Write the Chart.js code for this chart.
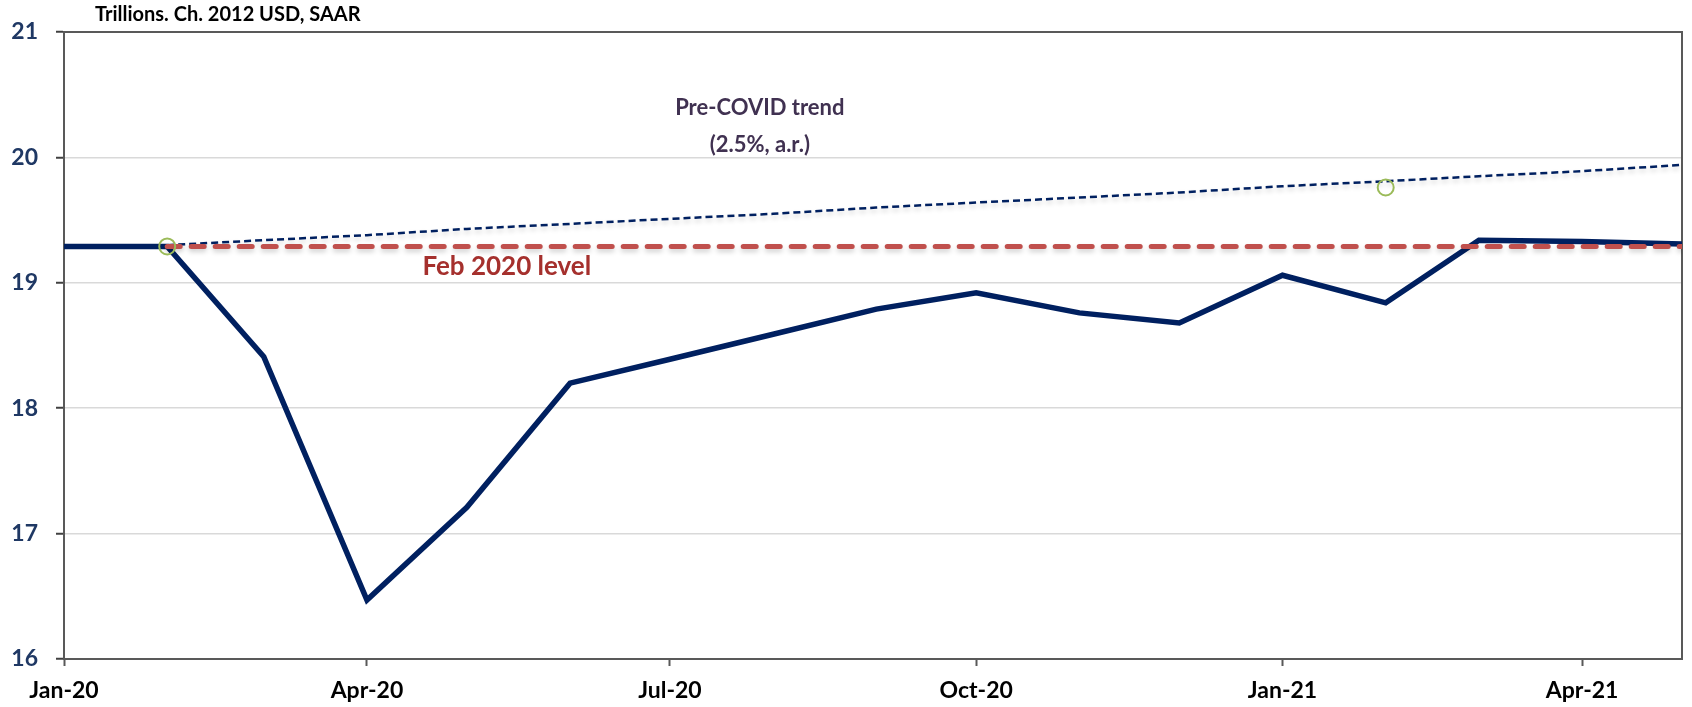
<!DOCTYPE html>
<html>
<head>
<meta charset="utf-8">
<script src="https://cdn.jsdelivr.net/npm/chart.js@4.4.1/dist/chart.umd.min.js"></script>
<style>
  html, body { margin: 0; padding: 0; background: #ffffff; }
  #wrap { width: 1692px; height: 707px; }
</style>
</head>
<body>
<div id="wrap"><canvas id="gdp" width="1692" height="707"></canvas></div>
<script>
// Real GDP, monthly, trillions of chained 2012 dollars (SAAR)
const months = ['2020-01','2020-02','2020-03','2020-04','2020-05','2020-06','2020-07','2020-08',
                '2020-09','2020-10','2020-11','2020-12','2021-01','2021-02','2021-03','2021-04','2021-05'];
const gdpValues = [19.29, 19.29, 18.41, 16.47, 17.21, 18.20, 18.39, 18.59,
                   18.79, 18.92, 18.76, 18.68, 19.06, 18.84, 19.34, 19.33, 19.31];

// Pre-COVID trend path from February 2020
const trendMonths = ['2020-02','2020-03','2020-04','2020-05','2020-06','2020-07','2020-08','2020-09',
                     '2020-10','2020-11','2020-12','2021-01','2021-02','2021-03','2021-04','2021-05'];
const trendValues = [19.30, 19.34, 19.38, 19.43, 19.47, 19.51, 19.55, 19.60,
                     19.64, 19.68, 19.72, 19.77, 19.81, 19.85, 19.89, 19.94];

// February 2020 level held flat
const febLevelMonths = ['2020-02', '2021-05'];
const febLevelValues = [19.29, 19.29];

// Highlighted points
const markerMonths = ['2020-02', '2021-02'];
const markerValues = [19.29, 19.76];

// Axis ticks
const tickDates = ['2020-01','2020-04','2020-07','2020-10','2021-01','2021-04'];
const tickLabels = ['Jan-20','Apr-20','Jul-20','Oct-20','Jan-21','Apr-21'];
const yTicks = [16, 17, 18, 19, 20, 21];

const FONT = 'Lato, "Open Sans", "Liberation Sans", sans-serif';
const ORIGIN = Date.UTC(2020, 0, 1);
function dayOf(ym) {
  const [y, m] = ym.split('-').map(Number);
  return Math.round((Date.UTC(y, m - 1, 1) - ORIGIN) / 86400000);
}
const pts = (ms, vs) => ms.map((m, i) => ({ x: dayOf(m), y: vs[i] }));
const tickDays = tickDates.map(dayOf);

const frame = {
  id: 'frame',
  beforeDatasetsDraw(chart) {
    const { ctx, chartArea: a } = chart;
    ctx.save();
    ctx.strokeStyle = '#595959';
    ctx.lineWidth = 2;
    ctx.strokeRect(a.left, a.top, a.right - a.left, a.bottom - a.top);
    ctx.restore();
  },
  beforeDatasetDraw(chart, args) {
    const ds = chart.data.datasets[args.index];
    if (ds.shadow) {
      const ctx = chart.ctx;
      ctx.save();
      ctx.shadowColor = 'rgba(0,0,0,0.18)';
      ctx.shadowBlur = 5;
      ctx.shadowOffsetY = 3;
    }
  },
  afterDatasetDraw(chart, args) {
    const ds = chart.data.datasets[args.index];
    if (ds.shadow) chart.ctx.restore();
  },
  afterDraw(chart) {
    const { ctx, chartArea: a, scales } = chart;
    const x = scales.x, y = scales.y;
    ctx.save();
    ctx.textBaseline = 'middle';
    // unit caption
    ctx.fillStyle = '#000000';
    ctx.font = 'bold 20px ' + FONT;
    ctx.textAlign = 'left';
    ctx.fillText('Trillions. Ch. 2012 USD, SAAR', a.left + 31, 15);
    // trend annotation
    ctx.fillStyle = '#403151';
    ctx.font = 'bold 22px ' + FONT;
    ctx.textAlign = 'center';
    const tx = x.getPixelForValue(dayOf('2020-07') + 27);
    ctx.fillText('Pre-COVID trend', tx, 108);
    ctx.fillText('(2.5%, a.r.)', tx, 145);
    // Feb 2020 level annotation
    ctx.fillStyle = '#A5302D';
    ctx.font = 'bold 26px ' + FONT;
    const lx = x.getPixelForValue(dayOf('2020-05') + 12);
    ctx.fillText('Feb 2020 level', lx, y.getPixelForValue(febLevelValues[0]) + 20);
    ctx.restore();
  }
};

new Chart(document.getElementById('gdp'), {
  type: 'line',
  data: {
    datasets: [
      {
        label: 'Highlights',
        data: pts(markerMonths, markerValues),
        showLine: false,
        pointRadius: 8,
        pointBorderWidth: 2,
        pointBorderColor: '#9BBB59',
        pointBackgroundColor: 'rgba(0,0,0,0)',
        order: 0
      },
      {
        label: 'Feb 2020 level',
        data: pts(febLevelMonths, febLevelValues),
        borderColor: '#C0504D',
        borderWidth: 5,
        borderDash: [13, 11],
        borderCapStyle: 'round',
        pointRadius: 0,
        shadow: true,
        order: 1
      },
      {
        label: 'Pre-COVID trend',
        data: pts(trendMonths, trendValues),
        borderColor: '#002060',
        borderWidth: 2.5,
        borderDash: [7, 4],
        pointRadius: 0,
        shadow: true,
        order: 2
      },
      {
        label: 'Real GDP',
        data: pts(months, gdpValues),
        borderColor: '#002060',
        borderWidth: 5.5,
        borderJoinStyle: 'miter',
        pointRadius: 0,
        tension: 0,
        order: 3
      }
    ]
  },
  options: {
    responsive: false,
    animation: false,
    devicePixelRatio: 1,
    layout: { padding: { top: 32, right: 5, left: 0, bottom: 0 } },
    plugins: { legend: { display: false }, tooltip: { enabled: false }, title: { display: false } },
    scales: {
      x: {
        type: 'linear',
        min: dayOf(months[0]),
        max: dayOf(months[months.length - 1]),
        afterBuildTicks(scale) { scale.ticks = tickDays.map(v => ({ value: v })); },
        afterFit(scale) { scale.height = 48; },
        ticks: {
          autoSkip: false,
          maxRotation: 0,
          padding: 11,
          color: '#000000',
          font: { family: FONT, size: 23, weight: 'bold' },
          callback(v) { const i = tickDays.indexOf(v); return i >= 0 ? tickLabels[i] : ''; }
        },
        grid: { drawOnChartArea: false, drawTicks: true, tickLength: 7, tickColor: '#595959', tickWidth: 2 },
        border: { display: true, color: '#595959', width: 2 }
      },
      y: {
        type: 'linear',
        min: yTicks[0],
        max: yTicks[yTicks.length - 1],
        afterBuildTicks(scale) { scale.ticks = yTicks.map(v => ({ value: v })); },
        afterFit(scale) { scale.width = 64; },
        ticks: {
          padding: 18,
          color: '#1F3864',
          font: { family: FONT, size: 23, weight: 'bold' }
        },
        grid: {
          color: ctx => (ctx.tick && (ctx.tick.value === 16 || ctx.tick.value === 21)) ? 'rgba(0,0,0,0)' : '#D9D9D9',
          lineWidth: 1.5,
          tickLength: 8,
          tickColor: '#404040',
          tickWidth: 2
        },
        border: { display: true, color: '#595959', width: 2 }
      }
    }
  },
  plugins: [frame]
});
</script>
</body>
</html>
